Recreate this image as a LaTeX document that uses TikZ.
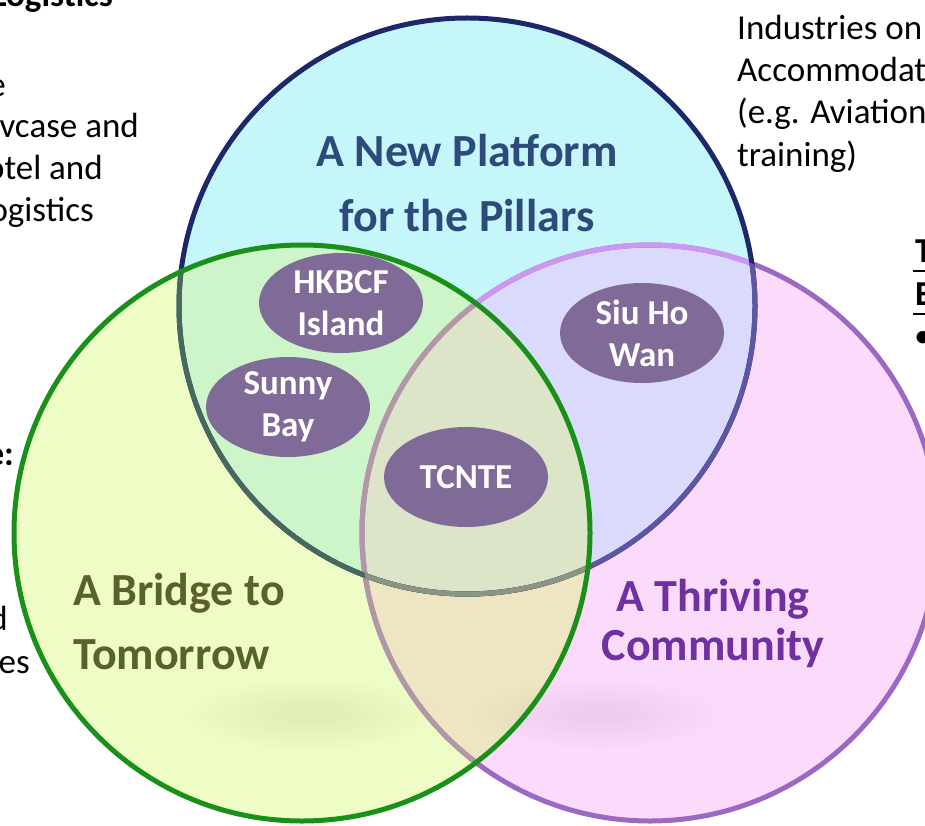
\documentclass[tikz,border=0pt]{standalone}
\usepackage{fontspec}
\setmainfont{Carlito}
\usetikzlibrary{shapes.geometric}
\definecolor{fillP}{RGB}{251,218,252}
\definecolor{fillB}{RGB}{197,246,250}
\definecolor{fillG}{RGB}{238,253,198}
\definecolor{fillBP}{RGB}{218,218,252}
\definecolor{fillBG}{RGB}{205,245,201}
\definecolor{fillGP}{RGB}{238,229,195}
\definecolor{fillBGP}{RGB}{220,229,200}
\definecolor{strP}{RGB}{155,105,195}
\definecolor{strPinB}{RGB}{205,150,240}
\definecolor{strPinG}{RGB}{178,152,165}
\definecolor{strB}{RGB}{28,40,105}
\definecolor{strBinG}{RGB}{70,105,95}
\definecolor{strBinGP}{RGB}{140,148,132}
\definecolor{strBinP}{RGB}{95,85,165}
\definecolor{strG}{RGB}{25,145,25}
\definecolor{txtB}{RGB}{46,74,122}
\definecolor{txtG}{RGB}{88,98,42}
\definecolor{txtP}{RGB}{112,48,160}
\definecolor{ellfill}{RGB}{128,106,152}
\tikzset{
  ring/.style={line width=5pt},
  biglbl/.style={inner sep=0pt, font=\fontsize{46}{56}\selectfont\bfseries},
  sidetxt/.style={inner sep=0pt, font=\fontsize{35}{42}\selectfont, text=black},
  sidebold/.style={inner sep=0pt, font=\fontsize{35}{42}\selectfont\bfseries, text=black},
  place/.style={ellipse, fill=ellfill, minimum width=164pt, minimum height=100pt, inner sep=0pt,
    text=white, align=center, font=\fontsize{35}{42}\selectfont\bfseries},
  shadowell/.style={fill=black, fill opacity=0.0035}
}
\begin{document}
\begin{tikzpicture}[x=1pt,y=-1pt]
\useasboundingbox (0,0) rectangle (925,826);
\clip (0,0) rectangle (925,826);
\fill[white] (0,0) rectangle (925,826);
\coordinate (cb) at (467,306);
\coordinate (cg) at (302,533);
\coordinate (cp) at (650,533);
% fills
\fill[fillP] (cp) circle[radius=288pt];
\fill[fillB] (cb) circle[radius=288pt];
\fill[fillG] (cg) circle[radius=288pt];
\begin{scope}\clip (cb) circle[radius=288pt]; \fill[fillBP] (cp) circle[radius=288pt];\end{scope}
\begin{scope}\clip (cb) circle[radius=288pt]; \fill[fillBG] (cg) circle[radius=288pt];\end{scope}
\begin{scope}\clip (cg) circle[radius=288pt]; \fill[fillGP] (cp) circle[radius=288pt];\end{scope}
\begin{scope}\clip (cb) circle[radius=288pt]; \clip (cg) circle[radius=288pt]; \fill[fillBGP] (cp) circle[radius=288pt];\end{scope}
% soft shadows
\foreach \s in {1.0,0.94,...,0.2}{
  \fill[shadowell] (310,715) ellipse[x radius={\s*125pt}, y radius={\s*36pt}];
  \fill[shadowell] (600,715) ellipse[x radius={\s*125pt}, y radius={\s*36pt}];
}
% strokes
\draw[ring, strP] (cp) circle[radius=288pt];
\begin{scope}\clip (cb) circle[radius=288pt]; \draw[ring, strPinB] (cp) circle[radius=288pt];\end{scope}
\draw[ring, strB] (cb) circle[radius=288pt];
\begin{scope}\clip (cp) circle[radius=288pt]; \draw[ring, strBinP] (cb) circle[radius=288pt];\end{scope}
\begin{scope}\clip (cg) circle[radius=288pt];
  \draw[ring, strPinG] (cp) circle[radius=288pt];
  \draw[ring, strBinG] (cb) circle[radius=288pt];
  \begin{scope}\clip (cp) circle[radius=288pt]; \draw[ring, strBinGP] (cb) circle[radius=288pt];\end{scope}
\end{scope}
\draw[ring, strG] (cg) circle[radius=288pt];
% circle labels
\node[biglbl, text=txtB, anchor=base] (np1) at (467,167) {A New Platform};
\node[biglbl, text=txtB, anchor=base] (np2) at (467,232) {for the Pillars};
\node[biglbl, text=txtG, anchor=base west] (bt1) at (73,605) {A Bridge to};
\node[biglbl, text=txtG, anchor=base west] (bt2) at (73,669) {Tomorrow};
\node[biglbl, text=txtP, anchor=base] (tc1) at (713,611) {A Thriving};
\node[biglbl, text=txtP, anchor=base] (tc2) at (713,660) {Community};
% places
\node[place] (hk) at (341,303) {HKBCF\\Island};
\node[place] (sb) at (288,407) {Sunny\\Bay};
\node[place] (tc) at (466,477) {TCNTE};
\node[place] (sh) at (642,333) {Siu Ho\\Wan};
% cropped side texts (left)
\node[sidebold, anchor=base east] (l0) at (113,7) {Logistics};
\node[sidetxt, anchor=base east] (l1) at (6,97) {e};
\node[sidetxt, anchor=base east] (l2) at (139,138) {vcase and};
\node[sidetxt, anchor=base east] (l3) at (103,180) {otel and};
\node[sidetxt, anchor=base east] (l4) at (94,222) {ogistics};
\node[sidebold, anchor=base east] (l5) at (14,465) {e:};
\node[sidetxt, anchor=base east] (l6) at (8,630) {d};
\node[sidetxt, anchor=base east] (l7) at (30,673) {es};
% cropped side texts (right)
\node[sidetxt, anchor=base west] (r1) at (737,40) {Industries on};
\node[sidetxt, anchor=base west] (r2) at (737,82) {Accommodat};
\node[sidetxt, anchor=base west] (r3) at (737,124) {(e.g. Aviation};
\node[sidetxt, anchor=base west] (r4) at (737,167) {training)};
\node[sidebold, anchor=base west] (r5) at (915,262) {T};
\node[sidebold, anchor=base west] (r6) at (915,305) {E};
\node[sidetxt, anchor=base west] (r7) at (914,347) {•};
\coordinate (u1a) at (913,271); \coordinate (u1b) at (925,271);
\coordinate (u2a) at (913,314); \coordinate (u2b) at (925,314);
\draw[line width=1.6pt] (u1a) -- (u1b);
\draw[line width=1.6pt] (u2a) -- (u2b);
\end{tikzpicture}
\end{document}
